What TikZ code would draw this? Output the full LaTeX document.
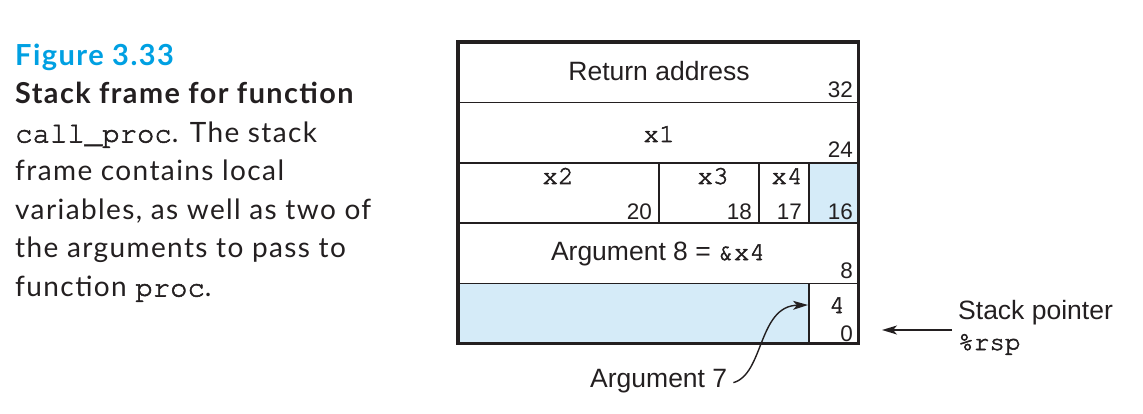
\documentclass[tikz,border=0pt]{standalone}
\usepackage[T1]{fontenc}
\usepackage{fontspec}
\setmainfont{Liberation Sans}
\newfontfamily\capfont[LetterSpace=5]{Lato}
\newcommand\mycour{\usefont{T1}{pcr}{m}{n}}
\newcommand\heavy[1]{\special{pdf:literal direct 2 Tr 0.55 w}#1\special{pdf:literal direct 0 Tr 0.4 w}}
\usetikzlibrary{arrows.meta}
\definecolor{figcyan}{RGB}{0,160,226}
\definecolor{cellblue}{RGB}{213,235,248}
\definecolor{ink}{RGB}{35,31,32}
\begin{document}
\begin{tikzpicture}[x=1pt,y=-1pt,
  capline/.style={anchor=base west,inner sep=0pt,text=ink,font=\capfont\fontsize{28}{28}\selectfont},
  lbl/.style={anchor=base,inner sep=0pt,text=ink,font=\fontsize{26.5}{26.5}\selectfont},
  mono/.style={anchor=base,inner sep=0pt,text=ink,font=\mycour\fontsize{26}{26}\selectfont},
  num/.style={anchor=base east,inner sep=0pt,text=ink,font=\fontsize{22.5}{22.5}\selectfont},
  outer/.style={draw=ink,line width=3.2pt},
  inner/.style={draw=ink,line width=1.4pt},
  arr/.style={draw=ink,line width=1.4pt,-{Stealth[length=15pt,width=9pt,inset=4pt]}}
]
\useasboundingbox (0,0) rectangle (1143,414);

% caption
\node[capline,text=figcyan,font=\capfont\bfseries\fontsize{29}{29}\selectfont] (fig) at (15,66) {Figure 3.33};
\node[capline,font=\capfont\bfseries\fontsize{28.8}{28.8}\selectfont] (c1) at (15,104) {Stack frame for function};
\node[capline] (c2) at (15,142.5) {{\mycour\fontsize{29}{29}\selectfont\heavy{call\_proc}}. The stack};
\node[capline] (c3) at (15,181) {frame contains local};
\node[capline] (c4) at (15,219.5) {variables, as well as two of};
\node[capline] (c5) at (15,258) {the arguments to pass to};
\node[capline] (c6) at (15,296.5) {function {\mycour\fontsize{29}{29}\selectfont\heavy{proc}}.};

% blue cells
\fill[cellblue] (809,163) rectangle (858,223);
\fill[cellblue] (458,283.5) rectangle (809,343);

% inner lines
\draw[inner] (458,102.5) -- (858,102.5);
\draw[inner] (458,163) -- (858,163);
\draw[inner] (458,223) -- (858,223);
\draw[inner] (458,283.5) -- (858,283.5);
\draw[inner] (659,163) -- (659,223);
\draw[inner] (759,163) -- (759,223);
\draw[inner] (809,163) -- (809,223);
\draw[inner] (809,283.5) -- (809,343);
% outer frame
\draw[outer] (458,42) rectangle (858.5,343.5);

% labels
\node[lbl] (ra) at (659,81) {Return address};
\node[num] (n32) at (853,98) {32};
\node[mono] (x1) at (659,142) {\heavy{x1}};
\node[num] (n24) at (853,158) {24};
\node[mono] (x2) at (558,184) {\heavy{x2}};
\node[mono] (x3) at (713,184) {\heavy{x3}};
\node[mono] (x4) at (787,184) {\heavy{x4}};
\node[num] (n20) at (652,219) {20};
\node[num] (n18) at (752,219) {18};
\node[num] (n17) at (802,219) {17};
\node[num] (n16) at (853,219) {16};
\node[lbl] (a8) at (658,260) {Argument 8 = {\mycour\fontsize{26}{26}\selectfont\heavy{\&x4}}};
\node[num] (n8) at (853,278) {8};
\node[mono] (n4) at (837,313) {\heavy{4}};
\node[num] (n0) at (853,341) {0};

% argument 7
\node[lbl,anchor=base west] (a7) at (590,387) {Argument 7};
\coordinate (a7tip) at (808,305);
\draw[arr] ([xshift=6pt,yshift=-2pt]a7.east) .. controls (764,374) and (758,306) .. (a7tip);

% stack pointer
\node[lbl,anchor=base west] (sp1) at (958,319) {Stack pointer};
\node[mono,anchor=base west] (sp2) at (958,350) {\heavy{\%rsp}};
\coordinate (spfrom) at (952,330);
\coordinate (sptip) at (882,330);
\draw[arr] (spfrom) -- (sptip);
\end{tikzpicture}
\end{document}
